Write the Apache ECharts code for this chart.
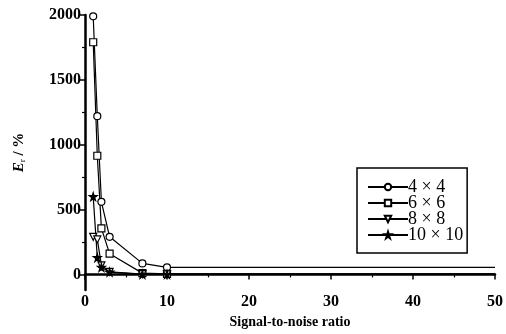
<!DOCTYPE html>
<html>
<head>
<meta charset="utf-8">
<script src="https://cdn.jsdelivr.net/npm/echarts@6/dist/echarts.min.js"></script>
<style>
  html, body { margin: 0; padding: 0; background: #fff; }
  #chart { width: 506px; height: 334px; }
</style>
</head>
<body>
<div id="chart"></div>
<script>
// signal-to-noise ratio values where measurements were taken
const snr = [1, 1.5, 2, 3, 7, 10];
// the curves run flat out to the right edge of the axis
const tailX = 50;

const seriesNames = ['4 × 4', '6 × 6', '8 × 8', '10 × 10'];
const err4 = [1990, 1220, 560, 290, 85, 55];
const err6 = [1790, 915, 355, 160, 10, 5];
const err8 = [290, 270, 70, 20, 2, 0];
const err10 = [600, 130, 55, 18, 0, 0];

const yLabels = [0, 500, 1000, 1500, 2000];
const yMinor = [250, 750, 1250, 1750];

const serif = 'Liberation Serif';
const star = 'path://M50,0 L61,35 L98,35 L68,57 L79,91 L50,70 L21,91 L32,57 L2,35 L39,35 Z';

function pts(vals) {
  const d = snr.map((x, i) => [x, vals[i]]);
  d.push({ value: [tailX, vals[vals.length - 1]], symbol: 'none' });
  return d;
}

function line(name, vals, symbol, filled, extra) {
  return Object.assign({
    name: name,
    type: 'line',
    data: pts(vals),
    symbol: symbol,
    symbolSize: 7,
    showAllSymbol: true,
    lineStyle: { color: '#000', width: 1.2 },
    itemStyle: { color: filled ? '#000' : '#fff', borderColor: '#000', borderWidth: 1.2 },
    z: 3
  }, extra || {});
}

const chart = echarts.init(document.getElementById('chart'), null, { renderer: 'canvas' });

chart.setOption({
  animation: false,
  backgroundColor: '#fff',
  grid: { left: 85, right: 3, top: 15, bottom: 44 },
  legend: {
    orient: 'vertical',
    left: 357,
    top: 168,
    width: 116,
    padding: [10, 4, 9, 10],
    itemGap: -2,
    itemWidth: 40,
    itemHeight: 8,
    borderColor: '#000',
    borderWidth: 1.5,
    backgroundColor: '#fff',
    data: seriesNames,
    textStyle: { fontFamily: serif, fontSize: 18, lineHeight: 16, color: '#000', padding: [0, 0, 0, -5] }
  },
  xAxis: {
    type: 'value',
    min: 0,
    max: 50,
    interval: 10,
    name: 'Signal-to-noise ratio',
    nameLocation: 'middle',
    nameGap: 23,
    nameTextStyle: { fontFamily: serif, fontWeight: 'bold', fontSize: 14, color: '#000' },
    axisLine: { lineStyle: { color: '#000', width: 2.5 } },
    axisTick: { inside: false, length: 5, lineStyle: { color: '#000', width: 1.5 } },
    minorTick: { show: true, splitNumber: 2, length: 3, lineStyle: { color: '#000', width: 1.2 } },
    axisLabel: { fontFamily: serif, fontWeight: 'bold', fontSize: 16, color: '#000', margin: 4 },
    splitLine: { show: false }
  },
  yAxis: [{
    type: 'value',
    min: -120,
    max: 2000,
    name: '{i|E}{s|r}{n| / %}',
    nameLocation: 'middle',
    nameGap: 58,
    nameRotate: 90,
    nameTextStyle: {
      color: '#000',
      rich: {
        i: { fontFamily: serif, fontStyle: 'italic', fontWeight: 'bold', fontSize: 15, color: '#000' },
        s: { fontFamily: serif, fontSize: 9, color: '#000', verticalAlign: 'bottom', padding: [6, 0, 0, 0] },
        n: { fontFamily: serif, fontWeight: 'bold', fontSize: 15, color: '#000' }
      }
    },
    axisLine: { show: true, lineStyle: { color: '#000', width: 2.5 } },
    axisTick: { show: true, customValues: yLabels, length: 5, lineStyle: { color: '#000', width: 1.5 } },
    axisLabel: {
      customValues: yLabels,
      formatter: (v) => String(v),
      fontFamily: serif, fontWeight: 'bold', fontSize: 16, color: '#000', margin: 4
    },
    splitLine: { show: false }
  }, {
    type: 'value',
    position: 'left',
    min: -120,
    max: 2000,
    axisLine: { show: false },
    axisTick: { show: true, customValues: yMinor, length: 3, lineStyle: { color: '#000', width: 1.2 } },
    axisLabel: { show: false },
    splitLine: { show: false }
  }],
  series: [
    line(seriesNames[0], err4, 'circle', false),
    line(seriesNames[1], err6, 'rect', false),
    line(seriesNames[2], err8, 'triangle', false, { symbolRotate: 180 }),
    line(seriesNames[3], err10, star, true, { symbolSize: 8 })
  ]
});
</script>
</body>
</html>
